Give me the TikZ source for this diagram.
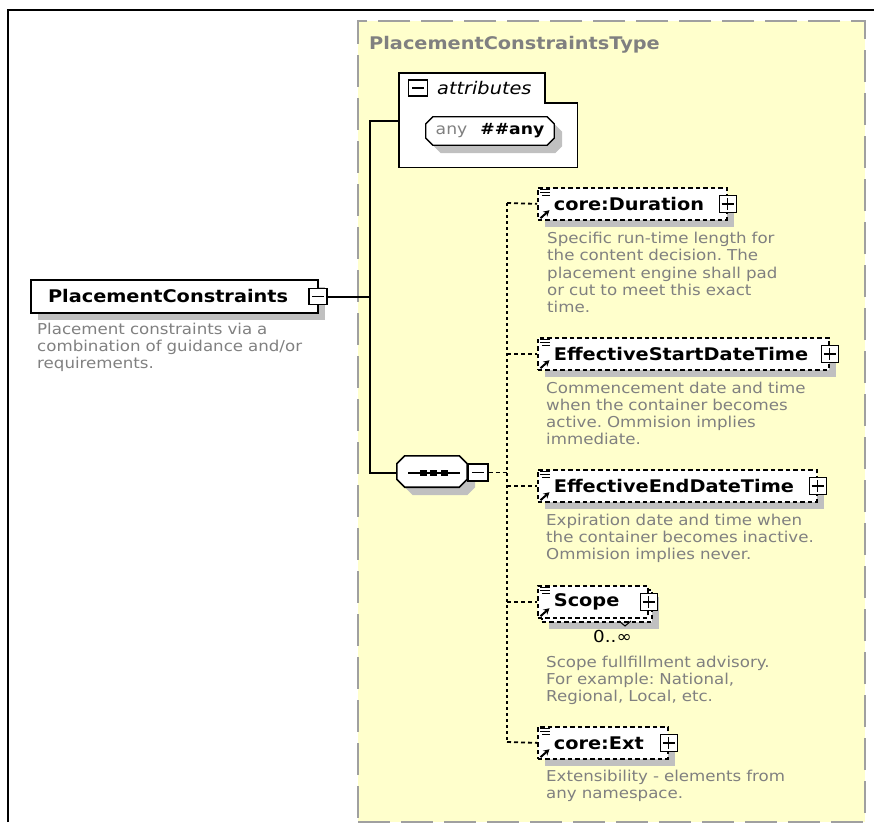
\documentclass[tikz,border=0pt]{standalone}
\usepackage{fontspec}
\setmainfont{DejaVu Sans}[FakeStretch=1.11]
\usetikzlibrary{shadows,arrows.meta}
\definecolor{yel}{RGB}{255,255,204}
\definecolor{shad}{RGB}{192,192,192}
\definecolor{descg}{RGB}{128,128,128}
\definecolor{frameg}{RGB}{160,160,160}
\frenchspacing
\newcommand{\nmfont}{\fontsize{17.4}{20}\selectfont\bfseries}
\newcommand{\octa}[5]{\path[#5] ([shift={({#3+#2},{#4})}]#1.north west) -- ([shift={({#3-#2},{#4})}]#1.north east) -- ([shift={({#3},{#4+#2})}]#1.north east) -- ([shift={({#3},{#4-#2})}]#1.south east) -- ([shift={({#3-#2},{#4})}]#1.south east) -- ([shift={({#3+#2},{#4})}]#1.south west) -- ([shift={({#3},{#4-#2})}]#1.south west) -- ([shift={({#3},{#4+#2})}]#1.north west) -- cycle;}
\newcommand{\elicons}[1]{%
  \draw[line width=1.1pt] ([shift={(3,2.5)}]#1.north west) -- ++(10,0)
    ([shift={(3,5.5)}]#1.north west) -- ++(10,0)
    ([shift={(5,8.5)}]#1.north west) -- ++(8,0);
  \draw[line width=2pt, -{Stealth[length=6pt,width=6.5pt]}] ([shift={(3.5,-2.5)}]#1.south west) -- ++(9,-8);}
\newcommand{\elbox}[5]{%
  \node[optel, sh, minimum width=#4pt] (#1) at (#2,#3) {\makebox[#4pt][l]{\hspace*{16pt}\nmfont #5}};
  \elicons{#1}
  \node[pmplus] (#1p) at (#1.east) {};}
\begin{document}
\begin{tikzpicture}[x=1pt,y=-1pt,
  ctype/.style={draw=frameg, fill=yel, line width=2.2pt, dash pattern=on 32pt off 11pt, inner sep=0pt, anchor=north west},
  sh/.style={drop shadow={shadow xshift=7pt, shadow yshift=-7pt, fill=shad, opacity=1}},
  optel/.style={draw=black, fill=white, line width=1.7pt, dash pattern=on 4.5pt off 3pt, inner sep=0pt, minimum height=32pt, anchor=north west},
  pmbox/.style={draw=black, fill=white, line width=1.4pt, minimum width=17pt, minimum height=17pt, inner sep=0pt},
  pmplus/.style={pmbox, path picture={\draw[line width=1.5pt] ([xshift=-6pt]path picture bounding box.center) -- ([xshift=6pt]path picture bounding box.center) ([yshift=-6pt]path picture bounding box.center) -- ([yshift=6pt]path picture bounding box.center);}},
  pmminus/.style={pmbox, path picture={\draw[line width=1.5pt] ([xshift=-6pt]path picture bounding box.center) -- ([xshift=6pt]path picture bounding box.center);}},
  desctext/.style={text=descg, font=\fontsize{15}{17.3}\selectfont, align=left, anchor=base west, inner sep=0pt, text width=330pt},
  conn/.style={line width=2pt},
  trunk/.style={line width=1.8pt, dash pattern=on 3pt off 3pt},
  branch/.style={line width=1.8pt, dash pattern=on 4pt off 3pt}]
\useasboundingbox (0,0) rectangle (874,822);
% outer frame
\draw[line width=2pt] (8,822) -- (8,10) -- (874,10);
% complex type box
\node[ctype, minimum width=507pt, minimum height=801pt] (ctbox) at (357,20) {};
\node[anchor=base west, inner sep=0pt, text=descg, font=\nmfont] (ttl) at (369,49) {PlacementConstraintsType};
% left element
\node[draw=black, fill=white, line width=2pt, sh, minimum height=33pt, minimum width=287pt, inner sep=0pt, anchor=north west] (pc) at (30,279) {\makebox[287pt][l]{\hspace*{17pt}\nmfont PlacementConstraints}};
\node[pmminus, minimum width=18pt, minimum height=16pt] (pcm) at ([xshift=-1pt]pc.east) {};
\node[desctext] (pcd) at (37,334) {Placement constraints via a\\combination of guidance and/or\\requirements.};
% attributes
\node[inner sep=0pt, minimum width=178pt, minimum height=94pt, anchor=north west] (attrs) at (399,73) {};
\draw[line width=1.8pt, fill=white] (attrs.north west) -- ([xshift=146pt]attrs.north west) -- ([shift={(146,30)}]attrs.north west) -- ([yshift=-30pt]attrs.north east) -- (attrs.south east) -- (attrs.south west) -- cycle;
\node[pmminus, minimum width=19pt, minimum height=16pt] (attm) at (418,88) {};
\node[anchor=west, inner sep=0pt, font=\fontsize{17.4}{20}\selectfont\itshape] (attl) at (437,88) {attributes};
\node[inner sep=0pt, minimum width=128pt, minimum height=28pt] (anyb) at (490,131) {};
\octa{anyb}{7}{8}{8}{fill=shad}
\octa{anyb}{7}{0}{0}{draw=black, line width=1.3pt, fill=white}
\node[inner sep=0pt, font=\fontsize{15.5}{18}\selectfont] (anyt) at (anyb.center) {\textcolor{descg}{any}\hspace{13pt}\textbf{\#\#any}};
% sequence compositor
\node[inner sep=0pt, minimum width=70pt, minimum height=31pt] (seqb) at (432,471.5) {};
\octa{seqb}{8}{8}{8}{fill=shad}
\octa{seqb}{8}{0}{0}{draw=black, line width=1.6pt, fill=white}
\draw[line width=1.6pt] ([shift={(-24,1.5)}]seqb.center) -- ([shift={(28,1.5)}]seqb.center);
\fill ([shift={(-12.5,-1.5)}]seqb.center) rectangle ++(7,6);
\fill ([shift={(-2.5,-1.5)}]seqb.center) rectangle ++(7,6);
\fill ([shift={(8.5,-1.5)}]seqb.center) rectangle ++(7,6);
\node[pmminus, minimum width=20pt, minimum height=17pt, anchor=west] (seqm) at ([yshift=-1pt]seqb.east) {};
% child elements
\elbox{dur}{537}{187}{189}{core:Duration}
\node[desctext] (durd) at (547,243.5) {Specific run-time length for\\the content decision. The\\placement engine shall pad\\or cut to meet this exact\\time.};
\elbox{est}{537}{337}{291}{EffectiveStartDateTime}
\node[desctext] (estd) at (546,393) {Commencement date and time\\when the container becomes\\active. Ommision implies\\immediate.};
\elbox{eed}{537}{469}{279}{EffectiveEndDateTime}
\node[desctext] (eedd) at (546,525) {Expiration date and time when\\the container becomes inactive.\\Ommision implies never.};
% scope (repeating)
\node[optel, sh, minimum width=110pt] (scb) at (541,589) {};
\node[optel, minimum width=110pt] (scope) at (537,585) {\makebox[110pt][l]{\hspace*{16pt}\nmfont Scope}};
\elicons{scope}
\node[pmplus] (scopep) at (scope.east) {};
\draw[line width=1pt] (619,621) -- (625,626) -- (631,621);
\node[anchor=base west, inner sep=0pt, font=\fontsize{16.5}{18}\selectfont] (occ) at (593,642) {0..∞};
\node[desctext] (scoped) at (546,667) {Scope fullfillment advisory.\\For example: National,\\Regional, Local, etc.};
\elbox{ext}{537}{726}{130}{core:Ext}
\node[desctext] (extd) at (546,781) {Extensibility - elements from\\any namespace.};
% connectors
\coordinate (j1) at (370,121);
\coordinate (j2) at (370,473);
\draw[conn] (pcm.east) -- (pcm.east -| j1);
\draw[conn] (attrs.west |- j1) -- (j1) -- (j2) -- (j2 -| seqb.west);
\coordinate (t1) at (507,203);
\coordinate (t5) at (507,742);
\draw[branch] (seqm.east) -- (seqm.east -| t1);
\draw[trunk] (t1) -- (t5);
\draw[branch] (t1) -- (dur.west);
\draw[branch] (est.west -| t1) -- (est.west);
\draw[branch] (eed.west -| t1) -- (eed.west);
\draw[branch] (scope.west -| t1) -- (scope.west);
\draw[branch] (t5) -- (ext.west);
\end{tikzpicture}
\end{document}
